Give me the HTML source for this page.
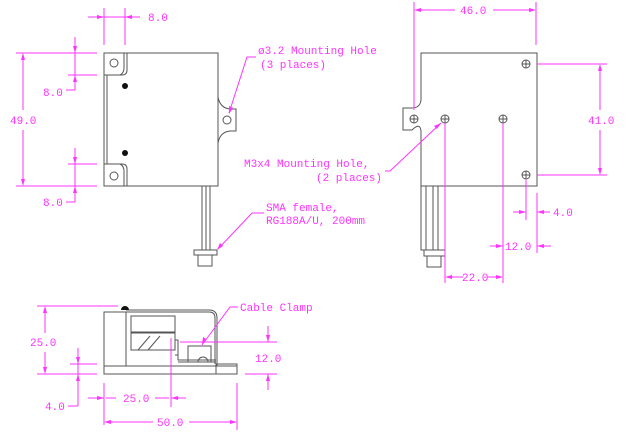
<!DOCTYPE html>
<html><head><style>
html,body{margin:0;padding:0;background:#fff;}
svg{display:block;}
text{font-family:"Liberation Mono",monospace;font-size:11px;fill:#ff33ff;}
.b{stroke:#555;fill:none;stroke-width:1;}
.m{stroke:#ff33ff;fill:none;stroke-width:1;}
.a{fill:#ff33ff;stroke:none;}
</style></head><body>
<svg width="642" height="443" viewBox="0 0 642 443" xmlns="http://www.w3.org/2000/svg">
<!-- LEFT VIEW -->
<g class="b">
<rect x="104" y="53" width="114" height="133"/>
<path d="M104,75 H122 Q127,75 127,70 V53"/>
<path d="M104,164 H122 Q127,164 127,169 V186"/>
<path d="M107,75 V164"/>
<path d="M107,75 H120 Q124,73 124,68 V53"/>
<path d="M107,164 H120 Q124,166 124,171 V186"/>
<circle cx="114" cy="63" r="4"/><circle cx="114" cy="176" r="4"/>
<path d="M218,97 Q220,108 230,109 H236 V131 H230 Q220,132 218,143"/>
<circle cx="227" cy="120" r="4"/>
<rect x="202" y="186" width="8" height="64"/><line x1="206" y1="186" x2="206" y2="250"/>
<rect x="194" y="250" width="23" height="5"/>
<rect x="198" y="255" width="14" height="11"/>
</g>
<circle cx="125" cy="86" r="3" fill="#111"/><circle cx="125" cy="153" r="3" fill="#111"/>
<g class="m">
<line x1="104" y1="8" x2="104" y2="45"/><line x1="125" y1="8" x2="125" y2="45"/>
<line x1="88" y1="17" x2="140" y2="17"/>
<line x1="16" y1="53" x2="97" y2="53"/><line x1="16" y1="186" x2="97" y2="186"/>
<line x1="23" y1="55" x2="23" y2="110"/><line x1="23" y1="130" x2="23" y2="184"/>
<line x1="68" y1="75" x2="97" y2="75"/><line x1="75" y1="37" x2="75" y2="90"/><line x1="66" y1="90" x2="75" y2="90"/>
<line x1="68" y1="164" x2="97" y2="164"/><line x1="75" y1="148" x2="75" y2="202"/><line x1="66" y1="202" x2="75" y2="202"/>
<path d="M256,57 H247 L229,113"/>
<path d="M264,213 H252 L218,249"/>
</g>
<g class="a">
<path d="M104,17 l-7,-2 v4z"/><path d="M125,17 l7,-2 v4z"/>
<path d="M23,53 l-2,7 h4z"/><path d="M23,186 l-2,-7 h4z"/>
<path d="M75,53 l-2,-7 h4z"/><path d="M75,75 l-2,7 h4z"/>
<path d="M75,164 l-2,-7 h4z"/><path d="M75,186 l-2,7 h4z"/>
<path d="M229,114 l0,-8 l4,2z"/><path d="M217,250 l3,-7 l3,3z"/>
</g>
<text x="148" y="21">8.0</text>
<text x="10" y="124">49.0</text>
<text x="43" y="96">8.0</text>
<text x="43" y="206">8.0</text>
<text x="258" y="54">ø3.2 Mounting Hole</text>
<text x="260" y="68">(3 places)</text>
<text x="266" y="211">SMA female,</text>
<text x="266" y="224">RG188A/U, 200mm</text>
<!-- RIGHT VIEW -->
<g class="b">
<path d="M421,53 H537 V186 H421 V131 Q420,122 412,130 H403 V108 H412 Q420,108 421,100 Z"/>
<rect x="421" y="186" width="17" height="64"/><line x1="426" y1="186" x2="426" y2="250"/><line x1="433" y1="186" x2="433" y2="250"/>
<rect x="424" y="250" width="21" height="6"/>
<rect x="427" y="256" width="14" height="11"/>
<circle cx="414" cy="119" r="4"/><circle cx="445" cy="119" r="4"/><circle cx="503" cy="119" r="4"/>
<circle cx="526" cy="64" r="4"/><circle cx="526" cy="175" r="4"/>
<path d="M410,119h8M414,115v8M441,119h8M445,115v8M499,119h8M503,115v8M522,64h8M526,60v8M522,175h8M526,171v8"/>
</g>
<g class="m">
<line x1="414" y1="2" x2="414" y2="110"/><line x1="536" y1="2" x2="536" y2="45"/>
<line x1="416" y1="10" x2="455" y2="10"/><line x1="493" y1="10" x2="534" y2="10"/>
<line x1="537" y1="64" x2="607" y2="64"/><line x1="537" y1="175" x2="607" y2="175"/>
<line x1="600" y1="66" x2="600" y2="110"/><line x1="600" y1="130" x2="600" y2="173"/>
<line x1="445" y1="123" x2="445" y2="283"/><line x1="503" y1="123" x2="503" y2="283"/>
<line x1="447" y1="277" x2="463" y2="277"/><line x1="487" y1="277" x2="501" y2="277"/>
<line x1="537" y1="193" x2="537" y2="253"/>
<line x1="490" y1="246" x2="503" y2="246"/><line x1="537" y1="246" x2="551" y2="246"/>
<line x1="526" y1="180" x2="526" y2="220"/>
<line x1="513" y1="212" x2="526" y2="212"/><line x1="537" y1="212" x2="550" y2="212"/>
<path d="M385,171 H390 L441,123"/>
</g>
<g class="a">
<path d="M414,10 l7,-2 v4z"/><path d="M536,10 l-7,-2 v4z"/>
<path d="M600,64 l-2,7 h4z"/><path d="M600,175 l-2,-7 h4z"/>
<path d="M445,277 l7,-2 v4z"/><path d="M503,277 l-7,-2 v4z"/>
<path d="M503,246 l-7,-2 v4z"/><path d="M537,246 l7,-2 v4z"/>
<path d="M526,212 l-7,-2 v4z"/><path d="M537,212 l7,-2 v4z"/>
<path d="M441,123 l-7,3 l3,3z"/>
</g>
<text x="460" y="14">46.0</text>
<text x="588" y="124">41.0</text>
<text x="462" y="281">22.0</text>
<text x="505" y="250">12.0</text>
<text x="553" y="216">4.0</text>
<text x="244" y="167">M3x4 Mounting Hole,</text>
<text x="316" y="181">(2 places)</text>
<!-- BOTTOM VIEW -->
<g class="b">
<rect x="104" y="312" width="22" height="54"/>
<rect x="104" y="366" width="133" height="8"/>
<path d="M126,310 H209 Q217,310 217,318 V366"/>
<path d="M126,312 H209 Q215,312 215,318 V364"/>
<rect x="216" y="364" width="21" height="10"/>
<rect x="131" y="316" width="44" height="16"/>
<rect x="131" y="333" width="44" height="17"/>
<path d="M138,350 L150,336 M148,350 L160,336"/>
<path d="M175,340 H178 V360 H216 M175,355 H178 M178,362 H216"/>
<rect x="188" y="346" width="23" height="16"/>
<path d="M198,362 A5,5 0 0 1 208,362"/>
</g>
<path d="M121,310 A4,4 0 0 1 129,310 Z" fill="#111"/>
<g class="m">
<line x1="37" y1="306" x2="118" y2="306"/><line x1="37" y1="374" x2="97" y2="374"/>
<line x1="45" y1="308" x2="45" y2="333"/><line x1="45" y1="352" x2="45" y2="372"/>
<line x1="70" y1="364" x2="97" y2="364"/><line x1="78" y1="348" x2="78" y2="406"/><line x1="68" y1="406" x2="78" y2="406"/>
<line x1="104" y1="383" x2="104" y2="425"/><line x1="171" y1="338" x2="171" y2="407"/><line x1="237" y1="383" x2="237" y2="430"/>
<line x1="88" y1="398" x2="104" y2="398"/><line x1="171" y1="398" x2="186" y2="398"/>
<line x1="106" y1="398" x2="116" y2="398"/><line x1="155" y1="398" x2="169" y2="398"/>
<line x1="106" y1="422" x2="153" y2="422"/><line x1="189" y1="422" x2="235" y2="422"/>
<line x1="180" y1="342" x2="277" y2="342"/><line x1="245" y1="374" x2="277" y2="374"/>
<line x1="268" y1="326" x2="268" y2="342"/><line x1="268" y1="374" x2="268" y2="390"/>
<path d="M238,307 H230 L202,345"/>
</g>
<g class="a">
<path d="M45,306 l-2,7 h4z"/><path d="M45,374 l-2,-7 h4z"/>
<path d="M78,364 l-2,-7 h4z"/><path d="M78,374 l-2,7 h4z"/>
<path d="M104,398 l-7,-2 v4z"/><path d="M171,398 l7,-2 v4z"/>
<path d="M104,422 l7,-2 v4z"/><path d="M237,422 l-7,-2 v4z"/>
<path d="M268,342 l-2,-7 h4z"/><path d="M268,374 l-2,7 h4z"/>
<path d="M202,345 l1,-8 l3,2z"/>
</g>
<text x="30" y="346">25.0</text>
<text x="45" y="410">4.0</text>
<text x="123" y="402">25.0</text>
<text x="157" y="426">50.0</text>
<text x="255" y="362">12.0</text>
<text x="240" y="311">Cable Clamp</text>
</svg>
</body></html>
